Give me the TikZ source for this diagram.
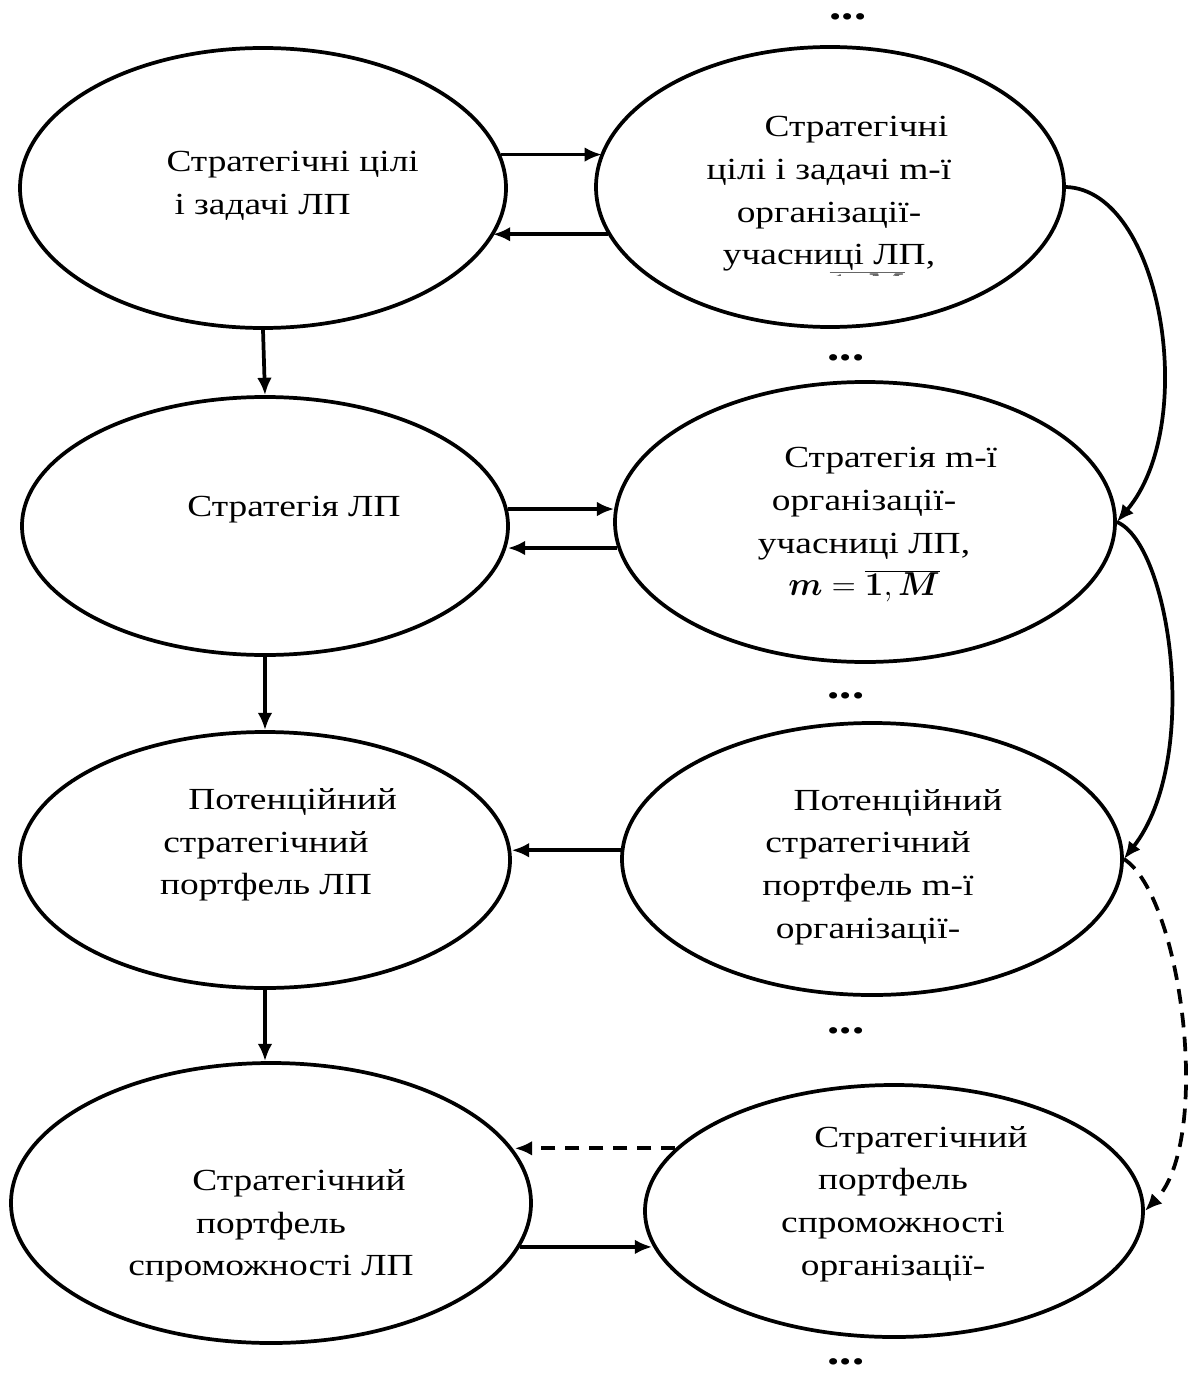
\documentclass[tikz,border=0pt]{standalone}
\usepackage{fontspec}
\usepackage{bm}
\setmainfont{Liberation Serif}[FakeStretch=1.22]
\usetikzlibrary{shapes.geometric,arrows.meta}
\tikzset{every picture/.style={line width=0.75pt}}
\tikzset{
  oval/.style={draw, ellipse, line width=2.8pt, inner sep=0pt},
  lbl/.style={align=center, font=\fontsize{23}{32}\selectfont, inner sep=0pt},
  arr/.style={-{Latex[length=13pt,width=11pt]}, line width=2.8pt},
  dashy/.style={dash pattern=on 11pt off 7pt},
  dots/.style={font=\fontsize{30}{30}\selectfont\bfseries, inner sep=0pt}
}
\newcommand{\mrange}{$\bm{m}=\overline{\bm{1},\bm{M}}$}

\begin{document}
\begin{tikzpicture}[x=0.75pt,y=0.75pt,yscale=-1,xscale=1]
		\useasboundingbox (0,0) rectangle (1190,1376);
		
		%Left column: the LP level
		\node[oval, minimum width=364.5pt, minimum height=210pt] (e1) at (263,188) {};
		\node[oval, minimum width=364.5pt, minimum height=193.5pt] (e2) at (265,526) {};
		\node[oval, minimum width=367.5pt, minimum height=192pt] (e3) at (265,860) {};
		\node[oval, minimum width=390pt, minimum height=210pt] (e4) at (271,1203) {};
		
		%Right column: the m-th member organisation
		\node[oval, minimum width=351pt, minimum height=210pt] (r1) at (830,187) {};
		\node[oval, minimum width=375pt, minimum height=210pt] (r2) at (865,522) {};
		\node[oval, minimum width=375pt, minimum height=204pt] (r3) at (872,859) {};
		\node[oval, minimum width=373.5pt, minimum height=189pt] (r4) at (894,1211) {};
		
		%Texts
		\node[lbl, align=left, anchor=west] (t1) at (166,186) {Стратегічні цілі\\\hspace*{6pt}і задачі ЛП};
		\node[lbl] (t2) at (294,510) {Стратегія ЛП};
		\node[lbl] (t3) at (266,845) {\hspace*{40pt}Потенційний\\стратегічний\\портфель ЛП};
		\node[lbl] (t4) at (271,1226) {\hspace*{42pt}Стратегічний\\портфель\\спроможності ЛП};
		\node[lbl] (s1) at (829,194) {\hspace*{41pt}Стратегічні\\цілі і задачі m-ї\\організації-\\учасниці ЛП,};
		\node[lbl] (s2) at (864,525) {\hspace*{40pt}Стратегія m-ї\\організації-\\учасниці ЛП,\\\mrange};
		\node[lbl] (s3) at (868,867) {\hspace*{45pt}Потенційний\\стратегічний\\портфель m-ї\\організації-};
		\node[lbl] (s4) at (893,1204) {\hspace*{42pt}Стратегічний\\портфель\\спроможності\\організації-};
		
		%cut-off index line under the first right oval
		\begin{scope}
		\clip (820,268) rectangle (915,276);
		\node[lbl, anchor=north east, text=black!60] (cutm) at (905,271) {\mrange};
		\end{scope}
		
		%Dots between the right ovals
		\node[dots] (d0) at (848,17) {...};
		\node[dots] (d1) at (846,358) {...};
		\node[dots] (d2) at (846,696) {...};
		\node[dots] (d3) at (846,1031) {...};
		\node[dots] (d4) at (846,1362) {...};
		
		%Straight Lines
		\draw[arr] (e1.south) -- (e2.north);
		\draw[arr] (e2.south) -- (e3.north);
		\draw[arr] (e3.south) -- (e3.south |- e4.north);
		
		\draw[arr] (e1.8.5) -- (r1.171.5 |- e1.8.5);
		\draw[arr] (r1.192.9) -- (e1.-12.2 |- r1.192.9);
		\draw[arr] (e2.4.5) -- (r2.177.5 |- e2.4.5);
		\draw[arr] (r2.186.3) -- (e2.-4.5 |- r2.186.3);
		\draw[arr] (r3.178.4) -- (e3.1.6 |- r3.178.4);
		\draw[arr, dashy] (r4.164.4) -- (e4.12.4 |- r4.164.4);
		\draw[arr] (e4.-10.4) -- (r4.188.8 |- e4.-10.4);
		
		%Curves on the right
		\draw[arr] (r1.east) .. controls +(96,3) and +(83,-98) .. (r2.east);
		\draw[arr] (r2.east) .. controls +(53,22) and +(78,-100) .. (r3.east);
		\draw[arr, dashy] (r3.east) .. controls +(58,37) and +(68,-70) .. (r4.east);
		
\end{tikzpicture}
\end{document}
